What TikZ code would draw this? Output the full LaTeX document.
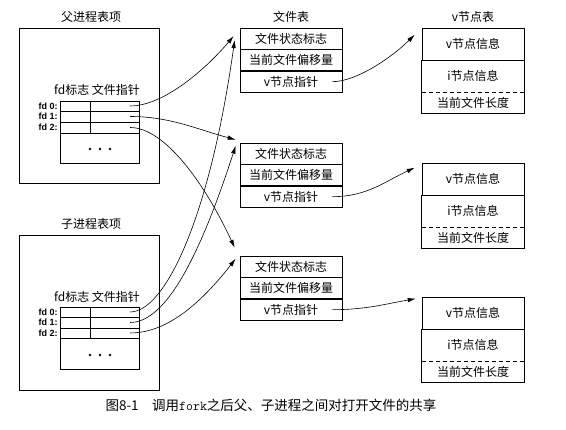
\documentclass[tikz,border=0pt]{standalone}
\usepackage{fontspec}
\setmainfont{Liberation Serif}
\setsansfont{Liberation Sans}
\newfontfamily\cjk{Noto Sans CJK SC}
\usetikzlibrary{positioning,arrows.meta}

\begin{document}
\begin{tikzpicture}[x=1pt,y=1pt,line width=0.6pt,
  every node/.style={inner sep=0pt, font=\cjk\fontsize{12}{14}\selectfont},
  ftcell/.style={draw, minimum width=102pt, minimum height=21pt},
  vcell/.style={minimum width=102pt},
  fdlab/.style={anchor=east, font=\sffamily\bfseries\fontsize{9}{10}\selectfont},
  ptr/.style={-{Latex[length=8pt,width=4.5pt]}}]
\useasboundingbox (0,0) rectangle (566,430);
% parent process entry
\node (ptitle) at (91,413) {父进程表项};
\draw (19,402) rectangle (159,247);
\node (phead) at (97,340) {fd标志 文件指针};
\draw (60,329) rectangle (139,267);
\draw (60,319) -- (139,319) (60,308) -- (139,308) (60,297) -- (139,297) (90,329) -- (90,297);
\node (pl0) [fdlab] at (58,324) {fd 0:};
\node (pl1) [fdlab] at (58,313.5) {fd 1:};
\node (pl2) [fdlab] at (58,302.5) {fd 2:};
\fill (90,281) circle (1.3pt) (100,281) circle (1.3pt) (110,281) circle (1.3pt);
\coordinate (pfd0) at (130,324);
\coordinate (pfd1) at (130,313.5);
\coordinate (pfd2) at (130,302.5);
% child process entry
\node (ctitle) at (91,206) {子进程表项};
\draw (19,195) rectangle (159,40);
\node (chead) at (97,133) {fd标志 文件指针};
\draw (60,123) rectangle (139,61);
\draw (60,113) -- (139,113) (60,102) -- (139,102) (60,92) -- (139,92) (90,123) -- (90,92);
\node (cl0) [fdlab] at (58,118) {fd 0:};
\node (cl1) [fdlab] at (58,107.5) {fd 1:};
\node (cl2) [fdlab] at (58,97) {fd 2:};
\fill (90,75) circle (1.3pt) (100,75) circle (1.3pt) (110,75) circle (1.3pt);
\coordinate (cfd0) at (130,118);
\coordinate (cfd1) at (130,107.5);
\coordinate (cfd2) at (130,97);
% file table
\node (ftitle) at (291,413) {文件表};
\node (fs1) [ftcell] at (291,391.5) {文件状态标志};
\node (fo1) [ftcell, below=0pt of fs1] {当前文件偏移量};
\node (fv1) [ftcell, below=0pt of fo1] {v节点指针\hspace{14pt}};
\node (fs2) [ftcell] at (291,276.5) {文件状态标志};
\node (fo2) [ftcell, below=0pt of fs2] {当前文件偏移量};
\node (fv2) [ftcell, below=0pt of fo2] {v节点指针\hspace{14pt}};
\node (fs3) [ftcell] at (291,163.5) {文件状态标志};
\node (fo3) [ftcell, below=0pt of fs3] {当前文件偏移量};
\node (fv3) [ftcell, below=0pt of fo3] {v节点指针\hspace{14pt}};
% v-node table
\node (vtitle) at (473,413) {v节点表};
\node (vi1) [vcell, draw, minimum height=32pt] at (473,386) {v节点信息};
\node (ii1) [vcell, minimum height=31pt, below=0pt of vi1] {i节点信息};
\node (vl1) [vcell, minimum height=21pt, below=0pt of ii1] {当前文件长度};
\draw (vi1.south west) rectangle (vl1.south east);
\draw [dash pattern=on 4pt off 3pt] (ii1.south west) -- (ii1.south east);
\node (vi2) [vcell, draw, minimum height=32pt] at (473,251) {v节点信息};
\node (ii2) [vcell, minimum height=31pt, below=0pt of vi2] {i节点信息};
\node (vl2) [vcell, minimum height=21pt, below=0pt of ii2] {当前文件长度};
\draw (vi2.south west) rectangle (vl2.south east);
\draw [dash pattern=on 4pt off 3pt] (ii2.south west) -- (ii2.south east);
\node (vi3) [vcell, draw, minimum height=32pt] at (473,117) {v节点信息};
\node (ii3) [vcell, minimum height=31pt, below=0pt of vi3] {i节点信息};
\node (vl3) [vcell, minimum height=21pt, below=0pt of ii3] {当前文件长度};
\draw (vi3.south west) rectangle (vl3.south east);
\draw [dash pattern=on 4pt off 3pt] (ii3.south west) -- (ii3.south east);
% parent pointers
\draw [ptr] (pfd0) to[out=0,in=230,out distance=35pt,in distance=40pt] ([xshift=-6pt,yshift=2.5pt]fs1.west);
\draw [ptr] (pfd1) to[out=0,in=165,out distance=40pt,in distance=40pt] ([xshift=-4pt,yshift=3pt]fs2.north west);
\draw [ptr] (pfd2) to[out=0,in=115,out distance=35pt,in distance=70pt] ([xshift=-5pt,yshift=8pt]fs3.north west);
% child pointers
\draw [ptr] (cfd0) to[out=0,in=262,out distance=35pt,in distance=180pt] ([xshift=-5pt,yshift=-1.5pt]fs1.west);
\draw [ptr] (cfd1) to[out=0,in=252,out distance=35pt,in distance=120pt] ([xshift=-4pt,yshift=-3pt]fs2.north west);
\draw [ptr] (cfd2) to[out=0,in=232,out distance=30pt,in distance=70pt] ([xshift=-4pt,yshift=-3pt]fs3.north west);
% v-node pointers
\draw [ptr] ([xshift=-10pt]fv1.east) to[out=0,in=225,out distance=25pt,in distance=30pt] ([xshift=-7pt,yshift=-7pt]vi1.north west);
\draw [ptr] ([xshift=-10pt]fv2.east) to[out=0,in=205] ([xshift=-7pt,yshift=-5pt]vi2.north west);
\draw [ptr] ([xshift=-10pt]fv3.east) to[out=0,in=190] ([xshift=-6pt,yshift=-2pt]vi3.north west);
% caption
\node (caption) [font=\cjk\fontsize{13.5}{16}\selectfont] at (271,25) {图8-1\quad 调用{\ttfamily fork}之后父、子进程之间对打开文件的共享};
\end{tikzpicture}
\end{document}
